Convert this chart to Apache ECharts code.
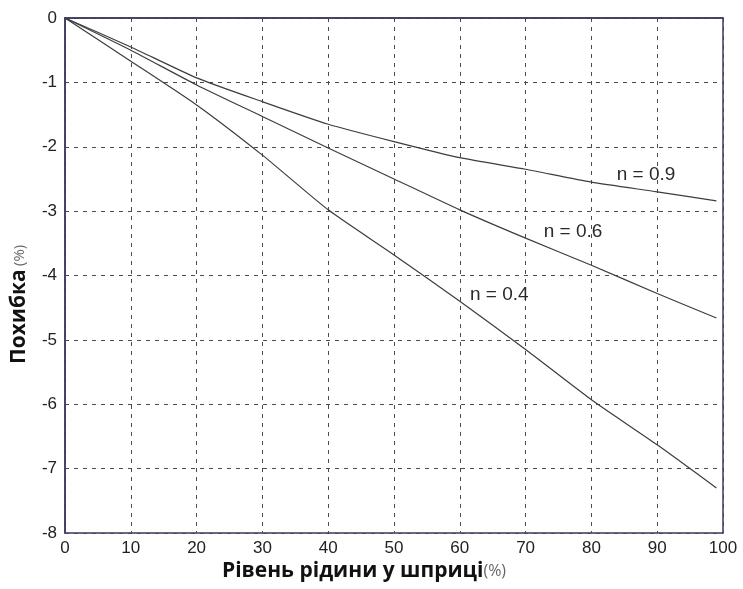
<!DOCTYPE html>
<html>
<head>
<meta charset="utf-8">
<style>
  html, body { margin: 0; padding: 0; background: #fff; }
  #chart { width: 743px; height: 589px; }
</style>
<script src="https://cdn.jsdelivr.net/npm/echarts@6/dist/echarts.min.js"></script>
</head>
<body>
<div id="chart"></div>
<script>
// Fill level in the syringe, %
const levels = [0, 10, 20, 30, 40, 50, 60, 70, 80, 90, 99];

// Measurement error, %, for each exponent n
const errN04 = [0, -0.67, -1.35, -2.13, -2.98, -3.68, -4.4, -5.15, -5.93, -6.63, -7.3];
const errN06 = [0, -0.5, -1.04, -1.53, -2.02, -2.5, -2.98, -3.42, -3.84, -4.28, -4.66];
const errN09 = [0, -0.45, -0.93, -1.3, -1.65, -1.92, -2.17, -2.35, -2.55, -2.7, -2.84];

const seriesNames = ['n = 0.4', 'n = 0.6', 'n = 0.9'];
// Where each curve's name is written, in data units
const nameSpots = [[66, -4.3], [77.2, -3.32], [88.3, -2.44]];

const xTicks = [0, 10, 20, 30, 40, 50, 60, 70, 80, 90, 100];
const yTicks = [0, -1, -2, -3, -4, -5, -6, -7, -8];

const xTitle = 'Рівень рідини у шприці';
const yTitle = 'Похибка';
const unit = '(%)';

const pairs = (ys) => levels.map((x, i) => [x, ys[i]]);

const lineColor = '#3d3d3d';
const gridColor = '#4a4a5a';
const frameColor = '#3a3a5e';
const tickFont = 'Liberation Sans, Arial, sans-serif';
const titleFont = 'Open Sans, sans-serif';

const chart = echarts.init(document.getElementById('chart'));

const makeSeries = (name, ys, spot) => ({
  name: name,
  type: 'line',
  data: pairs(ys),
  showSymbol: false,
  smooth: 0.2,
  lineStyle: { color: lineColor, width: 1.2 },
  markPoint: {
    symbol: 'circle',
    symbolSize: 0,
    data: [{ coord: spot, value: name }],
    label: {
      show: true,
      position: 'inside',
      formatter: name,
      color: '#2a2a2a',
      fontFamily: tickFont,
      fontSize: 19
    }
  }
});

chart.setOption({
  animation: false,
  backgroundColor: '#fff',
  grid: {
    left: 65, top: 18, width: 658, height: 515,
    show: true, borderColor: frameColor, borderWidth: 1.5
  },
  xAxis: {
    type: 'value',
    min: 0, max: 100, interval: 10,
    axisLine: { show: true, lineStyle: { color: frameColor, width: 1.5 } },
    axisTick: { show: false },
    axisLabel: {
      color: '#222', fontSize: 17, margin: 7,
      fontFamily: tickFont,
      formatter: (v) => xTicks.includes(v) ? String(v) : ''
    },
    splitLine: { show: true, lineStyle: { color: gridColor, type: [4, 5], width: 1 } }
  },
  yAxis: {
    type: 'value',
    min: -8, max: 0, interval: 1,
    axisLine: { show: true, lineStyle: { color: frameColor, width: 1.5 } },
    axisTick: { show: false },
    axisLabel: {
      color: '#222', fontSize: 17, margin: 8,
      fontFamily: tickFont,
      formatter: (v) => yTicks.includes(v) ? String(v) : ''
    },
    splitLine: { show: true, lineStyle: { color: gridColor, type: [4, 5], width: 1 } }
  },
  graphic: [
    {
      type: 'text',
      left: 222,
      top: 561,
      style: {
        text: '{b|' + xTitle + '}{s|' + unit + '}',
        rich: {
          b: { fontFamily: titleFont, fontWeight: 'bold', fontSize: 21, fill: '#111' },
          s: { fontFamily: titleFont, fontSize: 16, fill: '#666' }
        }
      }
    },
    {
      type: 'text',
      x: 9,
      y: 364,
      rotation: Math.PI / 2,
      style: {
        text: '{b|' + yTitle + '} {s|' + unit + '}',
        rich: {
          b: { fontFamily: titleFont, fontWeight: 'bold', fontSize: 21, fill: '#111' },
          s: { fontFamily: titleFont, fontSize: 15, fill: '#666' }
        }
      }
    }
  ],
  series: [
    makeSeries(seriesNames[0], errN04, nameSpots[0]),
    makeSeries(seriesNames[1], errN06, nameSpots[1]),
    makeSeries(seriesNames[2], errN09, nameSpots[2])
  ]
});
</script>
</body>
</html>
